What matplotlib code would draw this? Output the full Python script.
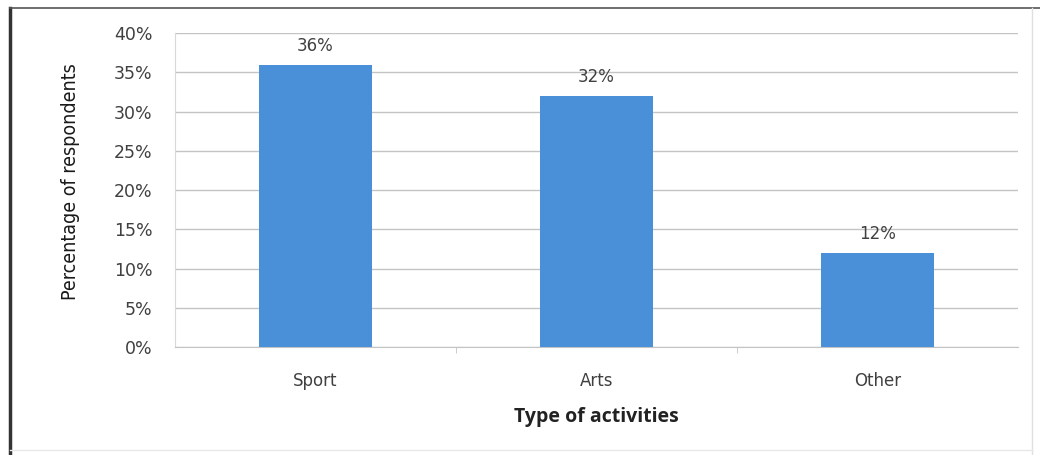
import matplotlib.pyplot as plt
from matplotlib.lines import Line2D
from matplotlib.ticker import FuncFormatter, MultipleLocator

categories = ["Sport", "Arts", "Other"]
shares = [36, 32, 12]

BAR_COLOR = "#4a90d9"
GRID_COLOR = "#c4c4c4"
TEXT_COLOR = "#404040"

plt.rcParams["font.family"] = "DejaVu Sans"

fig = plt.figure(figsize=(10.4, 4.55), dpi=100)
ax = fig.add_axes([0.168, 0.237, 0.811, 0.690])

x = range(len(categories))
bars = ax.bar(x, shares, width=0.4, color=BAR_COLOR, zorder=3)

for rect, val in zip(bars, shares):
    ax.annotate(f"{val}%", (rect.get_x() + rect.get_width() / 2, val),
                xytext=(0, 7), textcoords="offset points", ha="center",
                va="bottom", fontsize=12, color=TEXT_COLOR)

ax.set_xlim(-0.5, len(categories) - 0.5)
ax.set_ylim(0, 40)
ax.yaxis.set_major_locator(MultipleLocator(5))
ax.yaxis.set_major_formatter(FuncFormatter(lambda v, _: f"{v:.0f}%"))
ax.grid(axis="y", color=GRID_COLOR, linewidth=1, zorder=0)

ax.set_xticks(list(x))
ax.set_xticklabels(categories)
ax.set_xticks([0.5, 1.5], minor=True)
ax.tick_params(axis="x", which="major", length=0, pad=18, labelsize=12,
               labelcolor=TEXT_COLOR)
ax.tick_params(axis="x", which="minor", length=4, color=GRID_COLOR)
ax.tick_params(axis="y", length=0, pad=16, labelsize=12.5,
               labelcolor=TEXT_COLOR)

for side in ["top", "right"]:
    ax.spines[side].set_visible(False)
ax.spines["left"].set_color("#d8d8d8")
ax.spines["bottom"].set_color(GRID_COLOR)

ax.set_xlabel("Type of activities", fontsize=14, fontweight="bold",
              family="Open Sans", labelpad=12, color="#222222")
fig.text(0.068, 0.60, "Percentage of respondents", rotation=90,
         ha="center", va="center", fontsize=14, fontstretch="condensed",
         color="#1a1a1a")

# frame around the chart
fig.add_artist(Line2D([0.010, 0.010], [0.0, 0.982], color="#333333", lw=2.5))
fig.add_artist(Line2D([0.010, 1.0], [0.982, 0.982], color="#555555", lw=1.2))
fig.add_artist(Line2D([0.992, 0.992], [0.0, 0.982], color="#e0e0e0", lw=1))
fig.add_artist(Line2D([0.010, 0.992], [0.012, 0.012], color="#e8e8e8", lw=1))

fig.savefig("out.png", dpi=100)
